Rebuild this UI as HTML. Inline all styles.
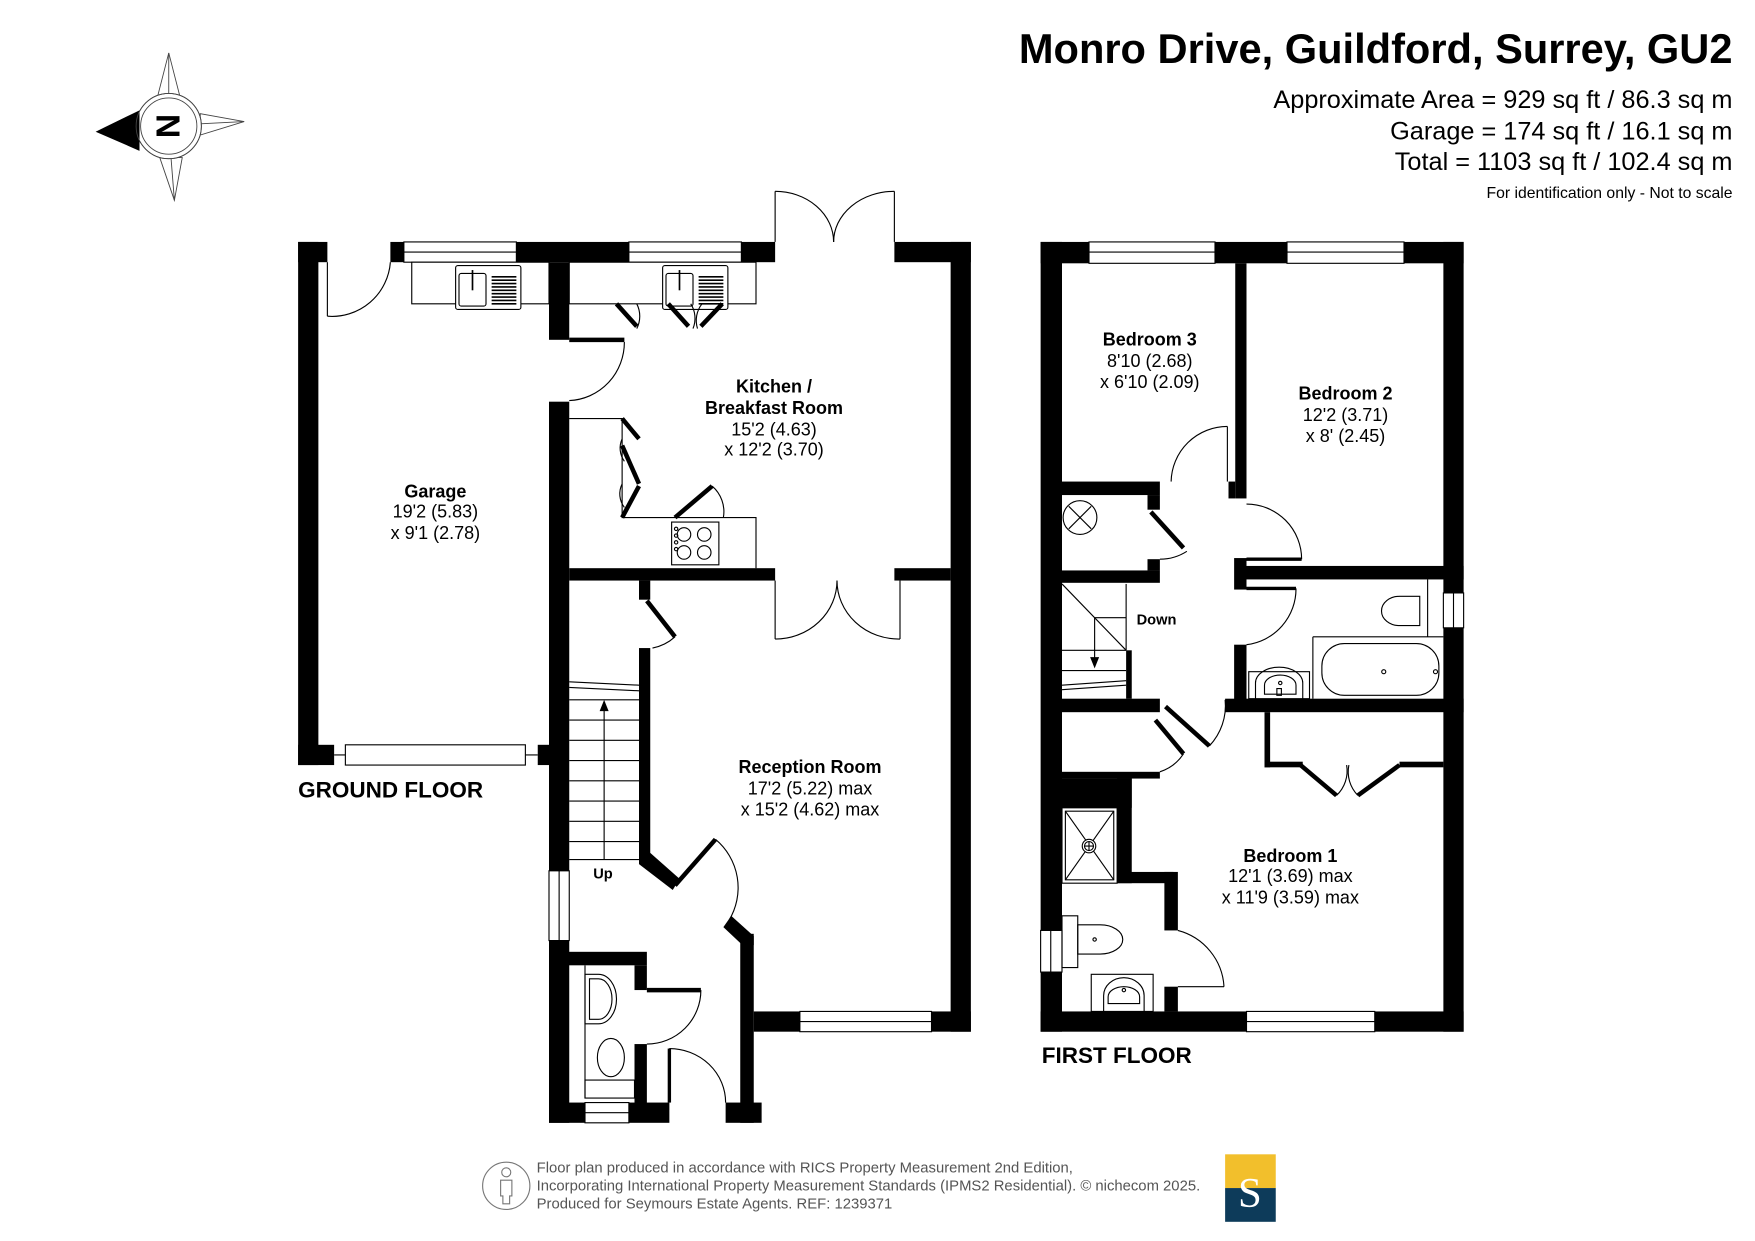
<!DOCTYPE html>
<html><head><meta charset="utf-8"><style>
html,body{margin:0;padding:0;background:#fff}
svg{display:block}
text{font-family:"Liberation Sans",Arial,sans-serif}
</style></head><body>
<svg width="1755" height="1241" viewBox="0 0 1560 1103" xmlns="http://www.w3.org/2000/svg">
<g fill="#000">
<text x="1540" y="56" font-size="37" font-weight="bold" text-anchor="end">Monro Drive, Guildford, Surrey, GU2</text>
<text x="1540" y="96" font-size="22.5" text-anchor="end">Approximate Area = 929 sq ft / 86.3 sq m</text>
<text x="1540" y="124" font-size="22.5" text-anchor="end">Garage = 174 sq ft / 16.1 sq m</text>
<text x="1540" y="151" font-size="22.5" text-anchor="end">Total = 1103 sq ft / 102.4 sq m</text>
<text x="1540" y="176" font-size="14" text-anchor="end">For identification only - Not to scale</text>
</g>
<!-- compass -->
<g stroke="#444" stroke-width="0.8" fill="none">
<polygon points="150,47 160,86 140,86"/>
<line x1="150" y1="47" x2="150" y2="86"/>
<polygon points="155,178 142,140 162,140"/>
<line x1="155" y1="178" x2="152" y2="140"/>
<polygon points="217,108 178,101 178,120"/>
<line x1="217" y1="108" x2="178" y2="110"/>
<circle cx="150" cy="112" r="29" fill="#fff"/>
<circle cx="150" cy="112" r="25"/>
</g>
<polygon points="85,117 124,98 124,134" fill="#000"/>
<circle cx="150" cy="112" r="29" fill="none" stroke="#444" stroke-width="0.8"/>
<text x="0" y="0" font-size="30" font-weight="bold" transform="translate(139,112) rotate(90)" text-anchor="middle">N</text>

<!-- GROUND FLOOR -->
<g fill="#000">
<rect x="265" y="215" width="18" height="465"/>
<rect x="265" y="215" width="26" height="18"/>
<rect x="347" y="215" width="12" height="18"/>
<rect x="459" y="215" width="100" height="18"/>
<rect x="659" y="215" width="30" height="18"/>
<rect x="795" y="215" width="68" height="18"/>
<rect x="845" y="215" width="18" height="702"/>
<rect x="488" y="233" width="18" height="69"/>
<rect x="488" y="357" width="18" height="641"/>
<rect x="265" y="662" width="32" height="18"/>
<rect x="478" y="662" width="12" height="18"/>
<rect x="506" y="505" width="183" height="11"/>
<rect x="795" y="505" width="50" height="11"/>
<rect x="568" y="516" width="10" height="17"/>
<rect x="568" y="576" width="10" height="188"/>
<polygon points="568,760 578,758 604,781 598,791 568,768"/>
<polygon points="643,824 650,814 670,832 670,840 660,840"/>
<rect x="658" y="830" width="12" height="168"/>
<rect x="670" y="899" width="193" height="18"/>
<rect x="488" y="846" width="87" height="12"/>
<rect x="564" y="858" width="11" height="22"/>
<rect x="564" y="928" width="11" height="55"/>
<rect x="488" y="980" width="32" height="18"/>
<rect x="559" y="980" width="36" height="18"/>
<rect x="645" y="980" width="32" height="18"/>
</g>
<g fill="#fff" stroke="#000" stroke-width="1">
<rect x="359" y="215" width="100" height="18"/><line x1="359" y1="224" x2="459" y2="224"/>
<rect x="559" y="215" width="100" height="18"/><line x1="559" y1="224" x2="659" y2="224"/>
<rect x="307" y="662" width="160" height="18"/><line x1="297" y1="671" x2="307" y2="671"/><line x1="467" y1="671" x2="478" y2="671"/>
<rect x="711" y="899" width="117" height="18"/><line x1="711" y1="908" x2="828" y2="908"/>
<rect x="488" y="774" width="18" height="62"/><line x1="497" y1="774" x2="497" y2="836"/>
<rect x="520" y="980" width="39" height="18"/><line x1="520" y1="989" x2="559" y2="989"/>
<rect x="366" y="233" width="122" height="37"/>
<rect x="506" y="233" width="166" height="37"/>
<rect x="405" y="236" width="58" height="39" rx="2"/><rect x="408" y="243" width="24" height="29" rx="2"/>
<rect x="589" y="236" width="58" height="39" rx="2"/><rect x="592" y="243" width="24" height="29" rx="2"/>
<polyline points="506,372 553,372 553,460 672,460 672,505" fill="none"/>
<rect x="597" y="464" width="42" height="38"/>
</g>
<g stroke="#000" stroke-width="1.5">
<line x1="420" y1="240" x2="420" y2="258"/><line x1="604" y1="240" x2="604" y2="258"/>
<g stroke-width="1.4">
<line x1="437" y1="246" x2="459" y2="246"/><line x1="437" y1="249" x2="459" y2="249"/><line x1="437" y1="252" x2="459" y2="252"/><line x1="437" y1="255" x2="459" y2="255"/><line x1="437" y1="258" x2="459" y2="258"/><line x1="437" y1="261" x2="459" y2="261"/><line x1="437" y1="264" x2="459" y2="264"/><line x1="437" y1="267" x2="459" y2="267"/><line x1="437" y1="270" x2="459" y2="270"/>
<line x1="621" y1="246" x2="643" y2="246"/><line x1="621" y1="249" x2="643" y2="249"/><line x1="621" y1="252" x2="643" y2="252"/><line x1="621" y1="255" x2="643" y2="255"/><line x1="621" y1="258" x2="643" y2="258"/><line x1="621" y1="261" x2="643" y2="261"/><line x1="621" y1="264" x2="643" y2="264"/><line x1="621" y1="267" x2="643" y2="267"/><line x1="621" y1="270" x2="643" y2="270"/>
</g>
</g>
<g fill="none" stroke="#000" stroke-width="1">
<circle cx="608" cy="475" r="6"/><circle cx="626" cy="475" r="6"/><circle cx="608" cy="491" r="6"/><circle cx="626" cy="491" r="6"/>
<circle cx="601" cy="470" r="1.5"/><circle cx="601" cy="476" r="1.5"/><circle cx="601" cy="482" r="1.5"/><circle cx="601" cy="488" r="1.5"/>
</g>
<g fill="none" stroke="#000" stroke-width="1">
<line x1="291" y1="233" x2="291" y2="281"/><path d="M291,281 A52,52 0 0 0 347,233"/>
<line x1="689" y1="215" x2="689" y2="170"/><path d="M689,170 A52,45 0 0 1 741,215"/>
<line x1="795" y1="215" x2="795" y2="170"/><path d="M795,170 A54,45 0 0 0 741,215"/>
<line x1="689" y1="516" x2="689" y2="568"/><path d="M689,568 A55,52 0 0 0 744,516"/>
<line x1="800" y1="516" x2="800" y2="568"/><path d="M800,568 A55,52 0 0 1 744,516"/>
<path d="M555,304 A51,52 0 0 1 506,356"/>
<path d="M580,576 A42,42 0 0 0 600,566"/>
<path d="M636,746 A56,56 0 0 1 648,818"/>
<path d="M623,880 A48,48 0 0 1 575,928"/>
<line x1="595" y1="980" x2="595" y2="932"/><path d="M595,932 A50,48 0 0 1 645,980"/>
<path d="M566,270 A24,24 0 0 1 566,292"/><path d="M614,270 A24,24 0 0 1 616,292"/><path d="M624,270 A24,24 0 0 0 620,292"/>
<path d="M553,390 A20,20 0 0 0 555,410"/><path d="M553,430 A20,20 0 0 0 555,451"/>
<path d="M633,432 A30,30 0 0 1 643,460"/>
</g>
<g stroke="#000" stroke-width="4" fill="none">
<line x1="506" y1="302" x2="555" y2="302"/>
<line x1="575" y1="534" x2="600" y2="566"/>
<line x1="600" y1="787" x2="636" y2="746"/>
<line x1="575" y1="880" x2="623" y2="880"/>
<line x1="595" y1="932" x2="595" y2="980" stroke-width="3"/>
<line x1="548" y1="270" x2="566" y2="290"/><line x1="594" y1="270" x2="612" y2="290"/><line x1="642" y1="270" x2="623" y2="290"/>
<line x1="553" y1="372" x2="568" y2="390"/><line x1="553" y1="396" x2="568" y2="430"/><line x1="553" y1="460" x2="568" y2="432"/>
<line x1="600" y1="460" x2="633" y2="432"/>
</g>
<g stroke="#000" stroke-width="1" fill="none">
<line x1="506" y1="606" x2="568" y2="609"/><line x1="506" y1="611" x2="568" y2="614"/>
<line x1="506" y1="622" x2="568" y2="622"/><line x1="506" y1="640" x2="568" y2="640"/><line x1="506" y1="658" x2="568" y2="658"/><line x1="506" y1="676" x2="568" y2="676"/><line x1="506" y1="694" x2="568" y2="694"/><line x1="506" y1="712" x2="568" y2="712"/><line x1="506" y1="730" x2="568" y2="730"/><line x1="506" y1="748" x2="568" y2="748"/><line x1="506" y1="764" x2="568" y2="764"/>
<line x1="537" y1="764" x2="537" y2="630"/>
<line x1="520" y1="858" x2="520" y2="976"/>
<path d="M520,866 h12 a16,22 0 0 1 0,44 h-12 z"/>
<path d="M524,870 h8 a12,18 0 0 1 0,36 h-8 z"/>
<ellipse cx="543" cy="940" rx="12" ry="17"/>
<rect x="520" y="960" width="44" height="16"/>
</g>
<polygon points="537,622 533,632 541,632" fill="#000"/>

<g fill="#000" text-anchor="middle">
<text x="387" y="442" font-size="16" font-weight="bold">Garage</text>
<text x="387" y="460" font-size="16">19'2 (5.83)</text>
<text x="387" y="479" font-size="16">x 9'1 (2.78)</text>
<text x="688" y="349" font-size="16" font-weight="bold">Kitchen /</text>
<text x="688" y="368" font-size="16" font-weight="bold">Breakfast Room</text>
<text x="688" y="387" font-size="16">15'2 (4.63)</text>
<text x="688" y="405" font-size="16">x 12'2 (3.70)</text>
<text x="720" y="687" font-size="16" font-weight="bold">Reception Room</text>
<text x="720" y="706" font-size="16">17'2 (5.22) max</text>
<text x="720" y="725" font-size="16">x 15'2 (4.62) max</text>
<text x="536" y="781" font-size="13" font-weight="bold">Up</text>
</g>
<text x="265" y="709" font-size="20" font-weight="bold">GROUND FLOOR</text>

<!-- FIRST FLOOR -->
<g fill="#000">
<rect x="925" y="215" width="19" height="702"/>
<rect x="925" y="215" width="43" height="19"/>
<rect x="1080" y="215" width="64" height="19"/>
<rect x="1248" y="215" width="53" height="19"/>
<rect x="1283" y="215" width="18" height="312"/>
<rect x="1283" y="558" width="18" height="359"/>
<rect x="925" y="899" width="183" height="18"/>
<rect x="1222" y="899" width="79" height="18"/>
<rect x="1098" y="234" width="10" height="209"/>
<rect x="1092" y="428" width="6" height="15"/>
<rect x="944" y="428" width="87" height="12"/>
<rect x="1020" y="440" width="11" height="13"/>
<rect x="944" y="507" width="87" height="11"/>
<rect x="1020" y="497" width="11" height="10"/>
<rect x="1103" y="503" width="198" height="12"/>
<rect x="1097" y="496" width="11" height="28"/>
<rect x="1097" y="573" width="11" height="49"/>
<rect x="1089" y="621" width="212" height="12"/>
<rect x="944" y="621" width="87" height="12"/>
<rect x="1001" y="578" width="5" height="43"/>
<rect x="1124" y="633" width="5" height="49"/>
<rect x="1124" y="677" width="34" height="5"/>
<rect x="1244" y="677" width="39" height="5"/>
<rect x="944" y="686" width="87" height="6"/>
<rect x="944" y="692" width="62" height="26"/>
<rect x="993" y="692" width="13" height="93"/>
<rect x="993" y="775" width="50" height="10"/>
<rect x="1035" y="775" width="12" height="52"/>
<rect x="1035" y="877" width="12" height="22"/>
</g>
<g fill="#fff" stroke="#000" stroke-width="1">
<rect x="968" y="215" width="112" height="19"/><line x1="968" y1="224" x2="1080" y2="224"/>
<rect x="1144" y="215" width="104" height="19"/><line x1="1144" y1="224" x2="1248" y2="224"/>
<rect x="1108" y="899" width="114" height="18"/><line x1="1108" y1="908" x2="1222" y2="908"/>
<rect x="1283" y="527" width="18" height="31"/><line x1="1292" y1="527" x2="1292" y2="558"/>
<rect x="925" y="827" width="19" height="37"/><line x1="934" y1="827" x2="934" y2="864"/>
</g>
<g fill="none" stroke="#000" stroke-width="1">
<circle cx="960" cy="460" r="15"/><line x1="950" y1="450" x2="970" y2="470"/><line x1="970" y1="450" x2="950" y2="470"/>
<line x1="1091" y1="379" x2="1091" y2="428"/><path d="M1091,379 A50,50 0 0 0 1041,428"/>
<path d="M1055,490 A44,44 0 0 1 1031,497"/>
<path d="M1157,497 A49,49 0 0 0 1108,448"/>
<path d="M1152,523 A50,50 0 0 1 1108,573"/>
<path d="M1075,663 A52,52 0 0 0 1089,622"/>
<path d="M1052,670 A40,40 0 0 1 1031,686"/>
<path d="M1047,827 A55,55 0 0 1 1088,877"/><line x1="1047" y1="877" x2="1088" y2="877"/>
<path d="M1188,707 A30,30 0 0 0 1197,680"/><path d="M1207,707 A30,30 0 0 1 1199,680"/>
<line x1="944" y1="519" x2="1001" y2="578"/>
<line x1="1001" y1="519" x2="1001" y2="578"/>
<line x1="973" y1="549" x2="1001" y2="549"/>
<line x1="944" y1="578" x2="1001" y2="578"/>
<line x1="944" y1="596" x2="1001" y2="596"/>
<line x1="944" y1="609" x2="1001" y2="605"/><line x1="944" y1="613" x2="1001" y2="609"/>
<line x1="973" y1="549" x2="973" y2="588"/>
<line x1="1269" y1="515" x2="1269" y2="566"/>
<path d="M1262,530 h-18 a16,13 0 0 0 0,26 h18 z"/>
<line x1="1167" y1="566" x2="1283" y2="566"/>
<line x1="1167" y1="566" x2="1167" y2="621"/>
<rect x="1175" y="572" width="104" height="46" rx="20"/>
<circle cx="1230" cy="597" r="1.8"/><circle cx="1276" cy="597" r="1.8"/>
<rect x="1110" y="597" width="54" height="24"/>
<path d="M1116,621 v-14 a21,14 0 0 1 42,0 v14"/>
<path d="M1124,617 v-8 a14,9 0 0 1 28,0 v8 z"/>
<circle cx="1138" cy="607" r="1.5"/>
<rect x="1135" y="612" width="4" height="6"/>
<rect x="944" y="718" width="49" height="67"/>
<rect x="947" y="721" width="43" height="61"/>
<line x1="947" y1="721" x2="990" y2="782"/><line x1="990" y1="721" x2="947" y2="782"/>
<circle cx="968" cy="752" r="6" fill="#fff"/><circle cx="968" cy="752" r="4"/>
<line x1="964" y1="752" x2="972" y2="752"/><line x1="968" y1="748" x2="968" y2="756"/>
<rect x="944" y="814" width="14" height="46"/>
<path d="M958,822 h20 a20,13 0 0 1 0,26 h-20 z"/>
<circle cx="973" cy="835" r="1.5"/>
<rect x="970" y="866" width="55" height="33"/>
<path d="M981,899 v-14 a18,16 0 0 1 36,0 v14"/>
<path d="M985,892 v-6 a14,9 0 0 1 28,0 v6 z"/>
<circle cx="999" cy="880" r="1.5"/>
</g>
<polygon points="973,594 969,584 977,584" fill="#000"/>
<g stroke="#000" stroke-width="4" fill="none">
<line x1="1023" y1="455" x2="1052" y2="487"/>
<line x1="1108" y1="497" x2="1157" y2="497" stroke-width="3"/>
<line x1="1108" y1="523" x2="1152" y2="523" stroke-width="3"/>
<line x1="1036" y1="628" x2="1075" y2="663"/>
<line x1="1027" y1="640" x2="1052" y2="670"/>
<line x1="1156" y1="680" x2="1188" y2="707"/>
<line x1="1244" y1="680" x2="1207" y2="707"/>
</g>
<g fill="#000" text-anchor="middle">
<text x="1022" y="307" font-size="16" font-weight="bold">Bedroom 3</text>
<text x="1022" y="326" font-size="16">8'10 (2.68)</text>
<text x="1022" y="345" font-size="16">x 6'10 (2.09)</text>
<text x="1196" y="355" font-size="16" font-weight="bold">Bedroom 2</text>
<text x="1196" y="374" font-size="16">12'2 (3.71)</text>
<text x="1196" y="393" font-size="16">x 8' (2.45)</text>
<text x="1147" y="766" font-size="16" font-weight="bold">Bedroom 1</text>
<text x="1147" y="784" font-size="16">12'1 (3.69) max</text>
<text x="1147" y="803" font-size="16">x 11'9 (3.59) max</text>
<text x="1028" y="555" font-size="13" font-weight="bold">Down</text>
</g>
<text x="926" y="945" font-size="20" font-weight="bold">FIRST FLOOR</text>

<!-- footer -->
<circle cx="450" cy="1054" r="21" fill="none" stroke="#777" stroke-width="1"/>
<g fill="none" stroke="#777" stroke-width="1">
<circle cx="450" cy="1042" r="4"/>
<path d="M445,1049 h10 v14 h-2 v7 h-6 v-7 h-2 z"/>
</g>
<g fill="#555" font-size="13.2">
<text x="477" y="1042">Floor plan produced in accordance with RICS Property Measurement 2nd Edition,</text>
<text x="477" y="1058">Incorporating International Property Measurement Standards (IPMS2 Residential).   © nichecom 2025.</text>
<text x="477" y="1074">Produced for Seymours Estate Agents.   REF: 1239371</text>
</g>
<rect x="1089" y="1026" width="45" height="30" fill="#f2bf2c"/>
<rect x="1089" y="1056" width="45" height="30" fill="#0d3b5a"/>
<text x="1111" y="1073" font-size="38" fill="#fff" text-anchor="middle" style="font-family:'Liberation Serif',serif">S</text>
</svg>
</body></html>
